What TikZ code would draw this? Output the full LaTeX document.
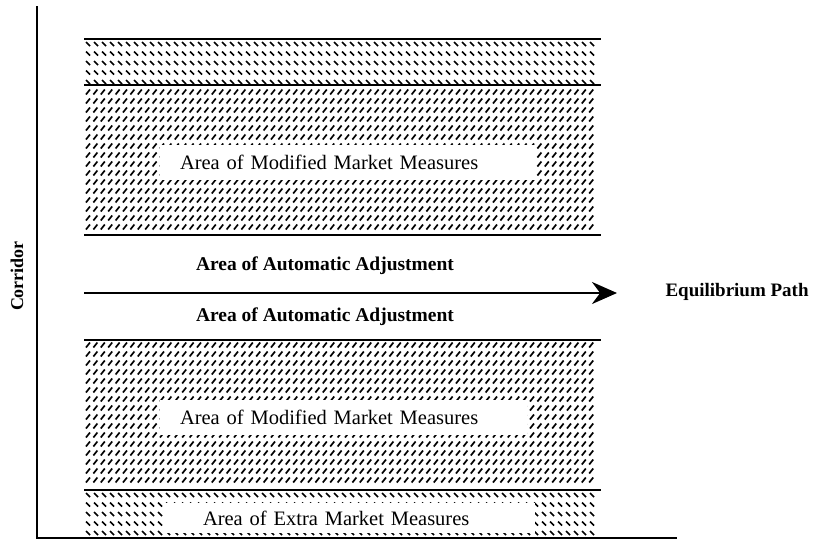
\documentclass[tikz,border=0pt]{standalone}
\usepackage{fontspec}
\setmainfont{Liberation Serif}
\usetikzlibrary{positioning, arrows.meta}

\tikzset{
  band/.style={inner sep=0pt, outer sep=0pt, minimum width=517pt},
  markpen/.style={line width=1.7pt},
  areabox/.style={fill=white, inner ysep=0pt, minimum height=35pt, align=left,
    font=\fontsize{20.5}{24}\selectfont},
  autolabel/.style={font=\bfseries\fontsize{19.5}{22}\selectfont},
  rule/.style={line width=2.8pt},
}

\begin{document}
\begin{tikzpicture}[x=1pt, y=-1pt]
\useasboundingbox (0,0) rectangle (813,547);
\coordinate (origin) at (37,538);
\coordinate (ytop) at (37,6);
\coordinate (xend) at (677,538);

% bands
\node[band, minimum height=46pt] (extraUp) at (342.5,62) {};
\node[band, minimum height=150pt] (modUp) at (342.5,160) {};
\node[band, minimum height=150pt] (modLow) at (342.5,415) {};
\node[band, minimum height=48pt] (extraLow) at (342.5,514) {};

% short hatch marks
\draw[markpen] \foreach \y in {44,53.5,...,82} {\foreach \x in {88,96,...,598} {(\x-2,\y-2) -- (\x+2,\y+2)}};
\draw[markpen] \foreach \y in {92,101,...,231} {\foreach \x in {88,95.4,...,598} {(\x-2,\y+2.5) -- (\x+2,\y-2.5)}};
\draw[markpen] \foreach \y in {345,354,...,486} {\foreach \x in {88,95.4,...,598} {(\x-2,\y+2.5) -- (\x+2,\y-2.5)}};
\draw[markpen] \foreach \y in {495,504.5,...,534} {\foreach \x in {88,96,...,598} {(\x-2,\y-2) -- (\x+2,\y+2)}};

\foreach \b in {extraUp, modUp, modLow} {\draw[rule] (\b.north west) -- (\b.north east);}
\draw[rule] (modUp.south west) -- (modUp.south east);
\draw[rule] (modLow.south west) -- (modLow.south east);

% axes
\draw[rule] (ytop) -- (origin) -- (xend);

\node[areabox, text width=335pt, inner xsep=20pt] (modUpText) at (347.5,162) {Area of Modified Market Measures};
\node[areabox, text width=327pt, inner xsep=20pt] (modLowText) at (343.5,417) {Area of Modified Market Measures};
\node[areabox, text width=294pt, inner xsep=38pt, minimum height=30pt] (extraText) at (350,518) {Area of Extra Market Measures};

\node[autolabel] (autoUp) at (325,266) {Area of Automatic Adjustment};
\node[autolabel] (autoLow) at (325,317) {Area of Automatic Adjustment};

\coordinate (eqStart) at (84,293);
\coordinate (eqEnd) at (617,293);
\draw[line width=2.4pt, -{Stealth[length=25pt,width=22pt]}] (eqStart) -- (eqEnd);
\node[autolabel, anchor=west, font=\bfseries\fontsize{19}{22}\selectfont] (eqPath) at (662,292) {Equilibrium Path};
\node[autolabel, rotate=90, font=\bfseries\fontsize{18}{20}\selectfont] (corridor) at (17,276) {Corridor};
\end{tikzpicture}
\end{document}
